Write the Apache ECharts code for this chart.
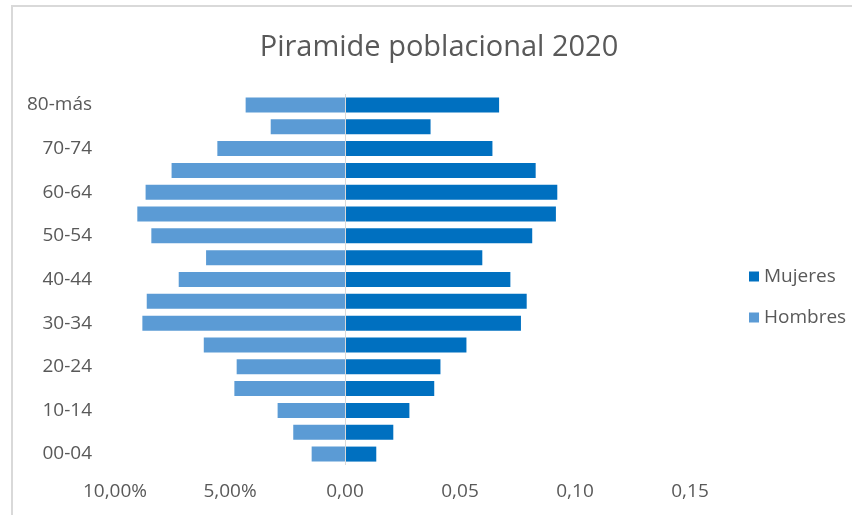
<!DOCTYPE html>
<html>
<head>
<meta charset="utf-8">
<script src="https://cdn.jsdelivr.net/npm/echarts@6/dist/echarts.min.js"></script>
<style>
html,body{margin:0;padding:0;background:#fff;}
#chart{width:852px;height:515px;}
</style>
</head>
<body>
<div id="chart"></div>
<script>
var categories = ['00-04','05-09','10-14','15-19','20-24','25-29','30-34','35-39','40-44','45-49','50-54','55-59','60-64','65-69','70-74','75-79','80-más'];
var hombres = [-0.0145,-0.0225,-0.0293,-0.0481,-0.0471,-0.0614,-0.0881,-0.0862,-0.0723,-0.0604,-0.0842,-0.0903,-0.0867,-0.0754,-0.0555,-0.0323,-0.0432];
var mujeres = [0.0136,0.0210,0.0280,0.0388,0.0415,0.0528,0.0765,0.0790,0.0719,0.0597,0.0814,0.0917,0.0923,0.0829,0.0641,0.0372,0.0670];
var titleText = 'Piramide poblacional 2020';

function fmt(v){
  var r = Math.round(v*10000)/10000;
  if (r < 0) return (Math.abs(r)*100).toFixed(2).replace('.', ',') + '%';
  return r.toFixed(2).replace('.', ',');
}

var chart = echarts.init(document.getElementById('chart'));
var font = '"Open Sans", "Noto Sans", sans-serif';
chart.setOption({
  animation:false,
  textStyle:{fontFamily:font},
  title:{text:titleText,left:434,top:28,textAlign:'center',
    textStyle:{fontFamily:font,fontSize:29,fontWeight:'normal',color:'#595959'}},
  graphic:[
    {type:'line',shape:{x1:12,y1:5,x2:12,y2:515},style:{stroke:'#d9d9d9',lineWidth:2}},
    {type:'line',shape:{x1:11,y1:6,x2:852,y2:6},style:{stroke:'#d9d9d9',lineWidth:2}}
  ],
  legend:{orient:'vertical',left:744,top:262,itemWidth:10,itemHeight:10,itemGap:22,
    icon:'rect',data:['Mujeres','Hombres'],
    textStyle:{fontFamily:font,fontSize:19,color:'#595959',padding:[0,0,0,0]}},
  grid:{left:115,right:162,top:94,bottom:50},
  xAxis:{type:'value',min:-0.10,max:0.15,interval:0.05,
    axisLine:{show:false},axisTick:{show:false},splitLine:{show:false},
    axisLabel:{formatter:fmt,fontFamily:font,fontSize:19,color:'#595959',margin:17}},
  yAxis:{type:'category',data:categories,
    axisLine:{show:false},axisTick:{show:false},
    axisLabel:{interval:1,fontFamily:font,fontSize:19,color:'#595959',margin:23}},
  series:[
    {name:'Hombres',type:'bar',data:hombres,barWidth:15,barGap:'-100%',
      itemStyle:{color:'#5B9BD5'},
      markLine:{silent:true,symbol:'none',label:{show:false},
        lineStyle:{color:'#d9d9d9',type:'solid',width:1},data:[{xAxis:0}]}},
    {name:'Mujeres',type:'bar',data:mujeres,barWidth:15,barGap:'-100%',
      itemStyle:{color:'#0070C0'}}
  ]
});
</script>
</body>
</html>
